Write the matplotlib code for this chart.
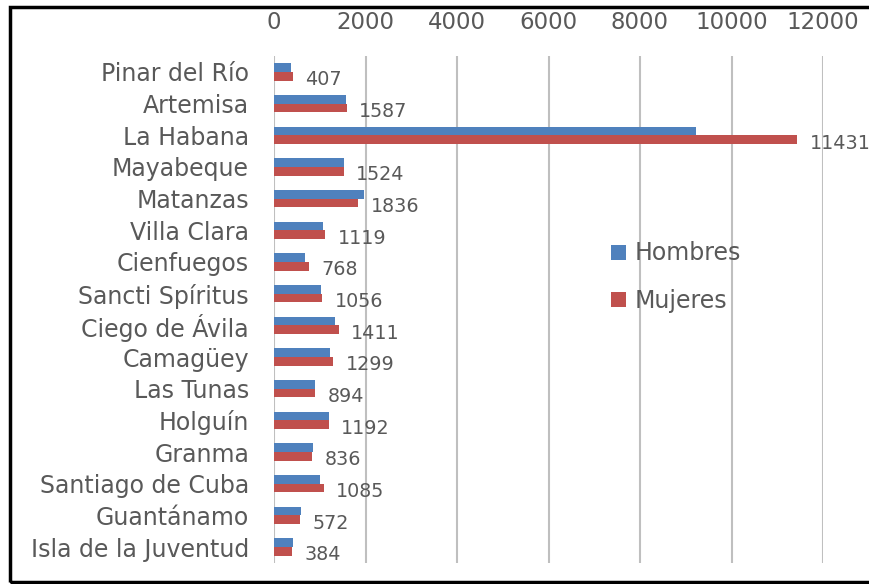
import numpy as np
import matplotlib
matplotlib.use("Agg")
import matplotlib.pyplot as plt
from matplotlib.patches import Rectangle

provincias = ["Pinar del Río", "Artemisa", "La Habana", "Mayabeque", "Matanzas",
              "Villa Clara", "Cienfuegos", "Sancti Spíritus", "Ciego de Ávila",
              "Camagüey", "Las Tunas", "Holguín", "Granma", "Santiago de Cuba",
              "Guantánamo", "Isla de la Juventud"]
hombres = [372, 1566, 9231, 1537, 1967, 1078, 670, 1027, 1333, 1231, 903, 1209, 845, 1005, 597, 415]
mujeres = [407, 1587, 11431, 1524, 1836, 1119, 768, 1056, 1411, 1299, 894, 1192, 836, 1085, 572, 384]
ticks_x = [0, 2000, 4000, 6000, 8000, 10000, 12000]

txt = "#595959"
azul = "#4F81BD"
rojo = "#C0504D"

fig = plt.figure(figsize=(8.69, 5.84), dpi=100)
ax = fig.add_axes([274/869, 1-563/584, (823-274)/869, (563-56)/584])

y = np.arange(len(provincias))
h = 0.275
ax.barh(y - h/2, hombres, height=h, color=azul, label="Hombres", zorder=3)
bars = ax.barh(y + h/2, mujeres, height=h, color=rojo, label="Mujeres", zorder=3)

for b, v in zip(bars, mujeres):
    ax.annotate(str(v), (b.get_width(), b.get_y() + b.get_height()/2),
                xytext=(9, -2.5), textcoords="offset points", va="center", ha="left",
                fontsize=13.8, color=txt, zorder=4)

ax.set_xlim(0, 12000)
ax.set_ylim(len(provincias) - 0.5, -0.5)
ax.set_xticks(ticks_x)
ax.set_yticks(y)
ax.set_yticklabels(provincias)
ax.xaxis.tick_top()
ax.tick_params(axis="x", length=0, pad=16, labelsize=16.5, labelcolor=txt)
ax.tick_params(axis="y", length=0, pad=18, labelsize=17, labelcolor=txt)
ax.grid(axis="x", color="#bfbfbf", linewidth=1.5, zorder=0)
for s in ax.spines.values():
    s.set_visible(False)

leg = fig.legend(loc="upper left", bbox_to_anchor=(602/869, 1-232/584), frameon=False,
                 fontsize=17, handlelength=0.6, handleheight=0.6, handletextpad=0.4,
                 labelspacing=1.0, borderaxespad=0)
for t in leg.get_texts():
    t.set_color(txt)

# marco negro (sin lado derecho visible)
fig.patches.append(Rectangle((10/869, 1-582/584), 880/869, 575/584, transform=fig.transFigure,
                             fill=False, edgecolor="black", linewidth=2.5))

fig.savefig("out.png", dpi=100)
